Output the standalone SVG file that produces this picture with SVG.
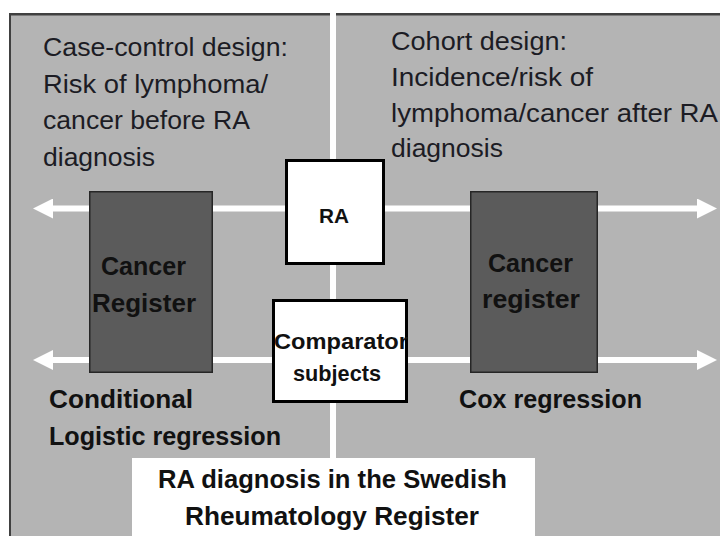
<svg xmlns="http://www.w3.org/2000/svg" width="720" height="536" viewBox="0 0 720 536">
  <style>
    .plain { font-family: "Liberation Sans", Arial, sans-serif; font-size: 26px; fill: #1c1c24; }
    .bold { font-family: "Liberation Sans", Arial, sans-serif; font-weight: bold; fill: #111111; }
    .wline { stroke: #ffffff; stroke-width: 6; fill: none; }
    .dark { fill: #5b5b5b; stroke: #262626; stroke-width: 1.5; }
    .wbox { fill: #ffffff; stroke: #000000; stroke-width: 3; }
  </style>
  <defs>
    <marker id="head" markerUnits="userSpaceOnUse" markerWidth="20" markerHeight="20" refX="6" refY="10" orient="auto">
      <path d="M0,0 L20,10 L0,20 z" fill="#ffffff"/>
    </marker>
  </defs>

  <rect x="0" y="0" width="720" height="536" fill="#ffffff"/>
  <g id="background">
    <rect x="10" y="13" width="710" height="523" fill="#b4b4b4"/>
    <rect x="10" y="13" width="710" height="2.5" fill="#404040"/>
    <rect x="9" y="13" width="2" height="523" fill="#404040"/>
  </g>

  <g id="connectors">
    <rect x="330" y="12" width="6" height="446" fill="#ffffff"/>
    <path class="wline" d="M335,208.5 L47,208.5" marker-end="url(#head)"/>
    <path class="wline" d="M335,208.5 L703,208.5" marker-end="url(#head)"/>
    <path class="wline" d="M335,360 L47,360" marker-end="url(#head)"/>
    <path class="wline" d="M335,360 L703,360" marker-end="url(#head)"/>
  </g>

  <g id="case-control-text">
    <text class="plain" x="43" y="56" textLength="245" lengthAdjust="spacingAndGlyphs">Case-control design:</text>
    <text class="plain" x="43" y="93" textLength="225" lengthAdjust="spacingAndGlyphs">Risk of lymphoma/</text>
    <text class="plain" x="43" y="129" textLength="207" lengthAdjust="spacingAndGlyphs">cancer before RA</text>
    <text class="plain" x="43" y="166" textLength="112" lengthAdjust="spacingAndGlyphs">diagnosis</text>
  </g>

  <g id="cohort-text">
    <text class="plain" x="391" y="50" textLength="176" lengthAdjust="spacingAndGlyphs">Cohort design:</text>
    <text class="plain" x="391" y="86" textLength="202" lengthAdjust="spacingAndGlyphs">Incidence/risk of</text>
    <text class="plain" x="391" y="122" textLength="327" lengthAdjust="spacingAndGlyphs">lymphoma/cancer after RA</text>
    <text class="plain" x="391" y="157" textLength="112" lengthAdjust="spacingAndGlyphs">diagnosis</text>
  </g>

  <g id="cancer-register-left">
    <rect class="dark" x="89.75" y="191.75" width="122.5" height="180.5"/>
    <text class="bold" x="101" y="275" font-size="25" textLength="85" lengthAdjust="spacingAndGlyphs">Cancer</text>
    <text class="bold" x="92" y="312" font-size="25" textLength="104" lengthAdjust="spacingAndGlyphs">Register</text>
  </g>

  <g id="cancer-register-right">
    <rect class="dark" x="470.75" y="191.75" width="126.5" height="180.5" fill="#606060"/>
    <text class="bold" x="488" y="272" font-size="25" textLength="85" lengthAdjust="spacingAndGlyphs">Cancer</text>
    <text class="bold" x="482" y="308" font-size="25" textLength="98" lengthAdjust="spacingAndGlyphs">register</text>
  </g>

  <g id="ra">
    <rect class="wbox" x="286.5" y="160.5" width="97" height="103"/>
    <text class="bold" x="319" y="223" font-size="21" textLength="30" lengthAdjust="spacingAndGlyphs">RA</text>
  </g>

  <g id="comparator">
    <rect class="wbox" x="273.5" y="300.5" width="133" height="101"/>
    <text class="bold" x="274" y="349" font-size="22" textLength="134" lengthAdjust="spacingAndGlyphs">Comparator</text>
    <text class="bold" x="293" y="381" font-size="22" textLength="88" lengthAdjust="spacingAndGlyphs">subjects</text>
  </g>

  <g id="methods-text">
    <text class="bold" x="49" y="408" font-size="26" textLength="144" lengthAdjust="spacingAndGlyphs">Conditional</text>
    <text class="bold" x="49" y="445" font-size="26" textLength="232" lengthAdjust="spacingAndGlyphs">Logistic regression</text>
    <text class="bold" x="459" y="408" font-size="26" textLength="183" lengthAdjust="spacingAndGlyphs">Cox regression</text>
  </g>

  <g id="swedish-register">
    <rect x="132" y="458" width="403" height="78" fill="#ffffff"/>
    <text class="bold" x="158" y="488" font-size="26" textLength="349" lengthAdjust="spacingAndGlyphs">RA diagnosis in the Swedish</text>
    <text class="bold" x="185" y="525" font-size="26" textLength="294" lengthAdjust="spacingAndGlyphs">Rheumatology Register</text>
  </g>
</svg>
